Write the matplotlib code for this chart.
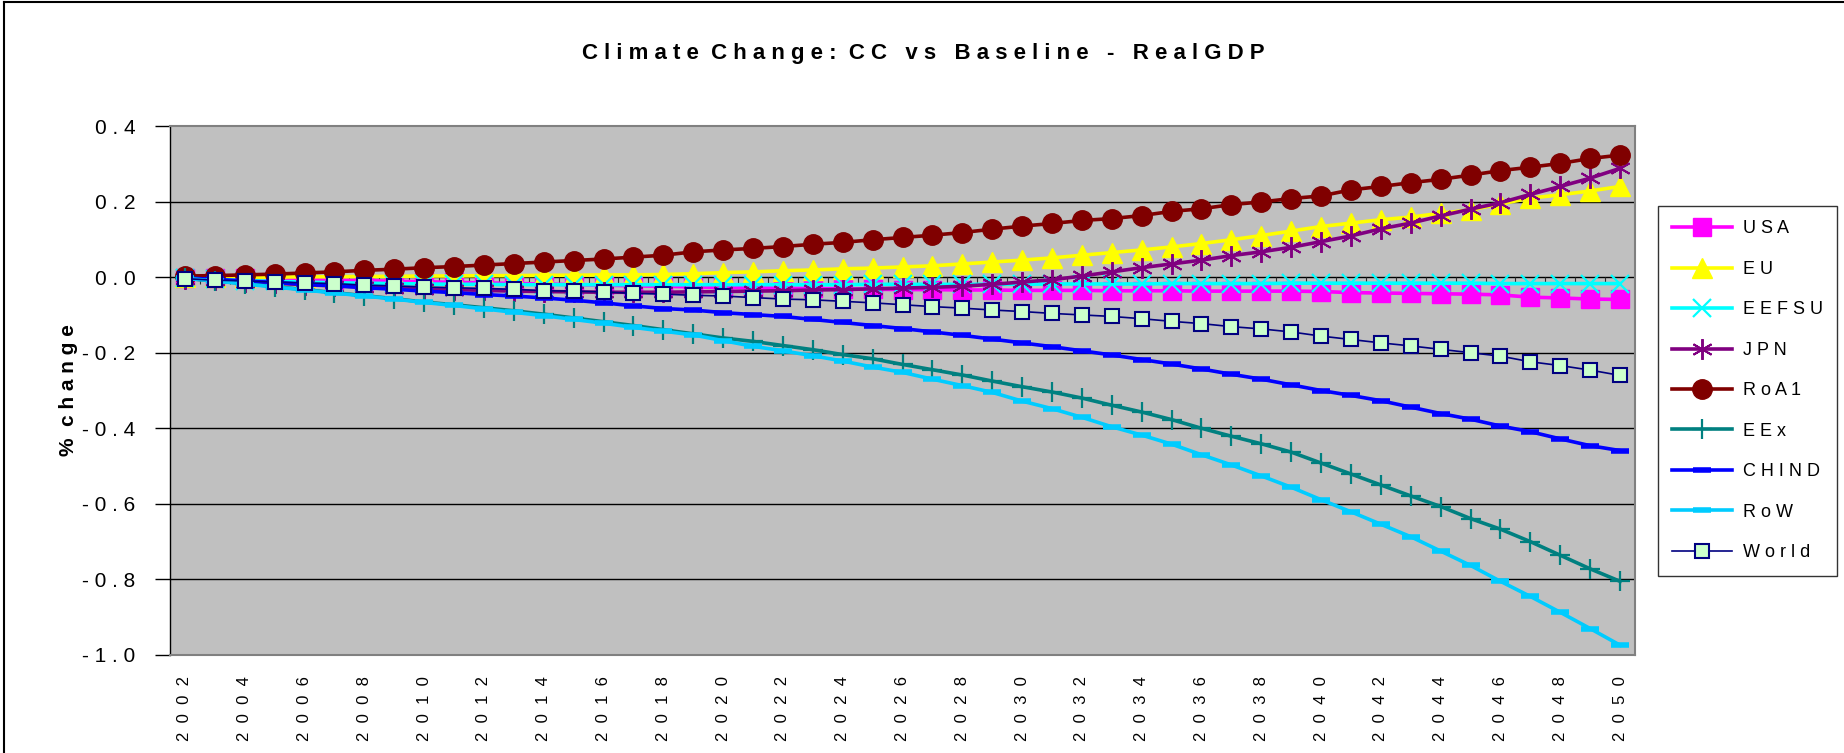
import numpy as np
import matplotlib
matplotlib.use("Agg")
from matplotlib import pyplot as plt
from matplotlib.lines import Line2D

years = list(range(2002, 2051))

usa = [-0.001, -0.002, -0.003, -0.005, -0.006, -0.008, -0.009, -0.011, -0.012, -0.014,
       -0.015, -0.017, -0.018, -0.020, -0.021, -0.023, -0.024, -0.026, -0.027, -0.028,
       -0.029, -0.030, -0.031, -0.032, -0.033, -0.033, -0.034, -0.034, -0.035, -0.035,
       -0.035, -0.036, -0.036, -0.036, -0.037, -0.037, -0.037, -0.037, -0.038, -0.041,
       -0.042, -0.043, -0.044, -0.045, -0.047, -0.053, -0.055, -0.058, -0.059]
eu = [0.000, 0.000, 0.000, 0.000, 0.001, 0.001, 0.002, 0.002, 0.003, 0.003,
      0.004, 0.004, 0.005, 0.005, 0.006, 0.006, 0.007, 0.009, 0.012, 0.014,
      0.017, 0.019, 0.022, 0.024, 0.027, 0.030, 0.035, 0.040, 0.045, 0.051,
      0.058, 0.065, 0.072, 0.080, 0.089, 0.099, 0.110, 0.122, 0.134, 0.143,
      0.152, 0.159, 0.169, 0.178, 0.194, 0.209, 0.218, 0.228, 0.240]
eefsu = [-0.003, -0.006, -0.009, -0.011, -0.013, -0.015, -0.016, -0.017, -0.018, -0.019,
         -0.019, -0.020, -0.020, -0.020, -0.020, -0.020, -0.020, -0.020, -0.020, -0.020,
         -0.020, -0.020, -0.020, -0.019, -0.019, -0.019, -0.019, -0.019, -0.019, -0.018,
         -0.018, -0.018, -0.018, -0.017, -0.017, -0.017, -0.017, -0.016, -0.016, -0.016,
         -0.016, -0.016, -0.016, -0.016, -0.017, -0.017, -0.017, -0.017, -0.017]
jpn = [-0.004, -0.008, -0.012, -0.016, -0.020, -0.023, -0.026, -0.028, -0.031, -0.033,
       -0.035, -0.037, -0.038, -0.039, -0.040, -0.040, -0.040, -0.039, -0.038, -0.037,
       -0.036, -0.034, -0.033, -0.031, -0.029, -0.027, -0.024, -0.019, -0.013, -0.007,
       0.003, 0.014, 0.025, 0.035, 0.045, 0.057, 0.067, 0.079, 0.094, 0.109,
       0.128, 0.143, 0.162, 0.180, 0.197, 0.219, 0.240, 0.262, 0.288]
roa1 = [0.003, 0.004, 0.006, 0.008, 0.011, 0.014, 0.018, 0.021, 0.025, 0.028,
        0.032, 0.036, 0.040, 0.044, 0.048, 0.053, 0.058, 0.067, 0.072, 0.076,
        0.081, 0.087, 0.092, 0.099, 0.105, 0.111, 0.118, 0.127, 0.135, 0.142,
        0.150, 0.155, 0.163, 0.174, 0.181, 0.192, 0.199, 0.208, 0.215, 0.231,
        0.240, 0.250, 0.259, 0.270, 0.282, 0.291, 0.301, 0.314, 0.323]
eex = [-0.003, -0.010, -0.017, -0.025, -0.033, -0.041, -0.049, -0.057, -0.066, -0.073,
       -0.081, -0.089, -0.098, -0.108, -0.118, -0.128, -0.139, -0.150, -0.161, -0.170,
       -0.181, -0.192, -0.205, -0.216, -0.231, -0.245, -0.259, -0.275, -0.290, -0.304,
       -0.320, -0.339, -0.357, -0.377, -0.400, -0.421, -0.441, -0.463, -0.492, -0.521,
       -0.550, -0.579, -0.607, -0.639, -0.667, -0.700, -0.736, -0.772, -0.805]
chind = [-0.002, -0.006, -0.010, -0.014, -0.019, -0.023, -0.028, -0.032, -0.037, -0.041,
         -0.046, -0.050, -0.055, -0.061, -0.068, -0.076, -0.083, -0.087, -0.094, -0.099,
         -0.104, -0.112, -0.120, -0.128, -0.136, -0.145, -0.154, -0.164, -0.174, -0.184,
         -0.195, -0.206, -0.218, -0.230, -0.243, -0.257, -0.270, -0.285, -0.300, -0.313,
         -0.327, -0.344, -0.361, -0.376, -0.394, -0.409, -0.428, -0.446, -0.459]
row = [-0.003, -0.010, -0.018, -0.026, -0.034, -0.042, -0.050, -0.058, -0.067, -0.075,
       -0.084, -0.093, -0.102, -0.112, -0.122, -0.133, -0.143, -0.153, -0.168, -0.183,
       -0.195, -0.208, -0.222, -0.238, -0.252, -0.270, -0.287, -0.305, -0.328, -0.348,
       -0.371, -0.396, -0.418, -0.442, -0.470, -0.497, -0.526, -0.556, -0.589, -0.621,
       -0.654, -0.687, -0.725, -0.763, -0.805, -0.845, -0.887, -0.930, -0.974]
world = [-0.004, -0.008, -0.010, -0.013, -0.015, -0.017, -0.021, -0.023, -0.026, -0.028,
         -0.030, -0.032, -0.036, -0.037, -0.039, -0.043, -0.045, -0.048, -0.050, -0.054,
         -0.058, -0.060, -0.064, -0.068, -0.073, -0.078, -0.082, -0.087, -0.091, -0.096,
         -0.100, -0.104, -0.110, -0.117, -0.123, -0.131, -0.137, -0.145, -0.156, -0.165,
         -0.174, -0.182, -0.191, -0.200, -0.209, -0.224, -0.234, -0.246, -0.260]

series_names = ["USA", "EU", "EEFSU", "JPN", "RoA1", "EEx", "CHIND", "RoW", "World"]
y_ticks = [0.4, 0.2, 0.0, -0.2, -0.4, -0.6, -0.8, -1.0]

plt.rcParams["font.family"] = ["Liberation Sans", "DejaVu Sans"]


def spaced(s):
    return " ".join(s)


# style for each series (colour, marker, size, line width)
styles = [
    dict(color="#FF00FF", marker="s", ms=13, lw=2.6, mec="#FF00FF"),
    dict(color="#FFFF00", marker="^", ms=15, lw=2.6, mec="#FFFF00"),
    dict(color="#00FFFF", marker="x", ms=13, lw=2.6, mew=1.6),
    dict(color="#800080", marker=(6, 2, 0), ms=15, lw=2.6, mew=1.4),
    dict(color="#800000", marker="o", ms=14, lw=2.6, mec="#800000"),
    dict(color="#008080", marker="+", ms=15, lw=2.6, mew=1.6),
    dict(color="#0000FF", marker="_", ms=13, lw=2.6, mew=4),
    dict(color="#00CCFF", marker="_", ms=13, lw=2.6, mew=4),
    dict(color="#000080", marker="s", ms=10, lw=1.2, mfc="#CCFFCC", mec="#000080", mew=1.5),
]
data = [usa, eu, eefsu, jpn, roa1, eex, chind, row, world]

fig = plt.figure(figsize=(18.44, 7.53), dpi=100)
ax = fig.add_axes([170 / 1844, 1 - 655 / 753, (1635 - 170) / 1844, (655 - 126) / 753])
ax.set_facecolor("#C0C0C0")

x = np.arange(len(years))
for name, vals, st in zip(series_names, data, styles):
    ax.plot(x, vals, label=spaced(name), zorder=3, clip_on=False, **st)

ax.set_xlim(-0.5, len(years) - 0.5)
ax.set_ylim(-1.0, 0.4)

# gridlines, black like Excel
for yv in y_ticks[1:-1]:
    ax.axhline(yv, color="black", lw=1.0, zorder=1)

# category axis crosses at zero: tick marks between categories
ax.vlines(np.arange(len(years) + 1) - 0.5, -0.018, 0, colors="#303030", lw=0.8, zorder=2)

for side in ["top", "right", "bottom"]:
    ax.spines[side].set_color("#808080")
    ax.spines[side].set_linewidth(1.5)
ax.spines["left"].set_color("black")
ax.spines["left"].set_linewidth(1.0)

ax.set_yticks(y_ticks)
ax.set_yticklabels([spaced(f"{v:.1f}") for v in y_ticks], fontsize=15)
ax.tick_params(axis="y", length=11, width=1.0, direction="out", pad=14)

ax.set_xticks(x[::2])
ax.set_xticklabels(["  ".join(str(yr)) for yr in years[::2]], rotation=90,
                   fontsize=12, va="top")
ax.tick_params(axis="x", length=0, pad=15)

ax.set_ylabel("%  c h a n g e", fontsize=15, fontweight="bold", labelpad=3)

fig.text(923 / 1844, 1 - 53 / 753,
         "C l i m a t e  C h a n g e :  C C   v s   B a s e l i n e   -   R e a l G D P",
         ha="center", va="center", fontsize=16, fontweight="bold")

leg = ax.legend(loc="upper left", bbox_to_anchor=(1658 / 1844, 1 - 206 / 753),
                bbox_transform=fig.transFigure, frameon=True, fancybox=False,
                prop={"size": 13}, handlelength=3.3,
                labelspacing=1.3, borderpad=0.8, handletextpad=0.6, borderaxespad=0)
leg.get_frame().set_edgecolor("black")
leg.get_frame().set_linewidth(1.0)

# outer chart border
fig.add_artist(Line2D([0.002, 0.002], [0, 0.997], transform=fig.transFigure, color="black", lw=1.5))
fig.add_artist(Line2D([0.002, 1], [0.997, 0.997], transform=fig.transFigure, color="black", lw=1.5))

fig.savefig("out.png", dpi=100)
